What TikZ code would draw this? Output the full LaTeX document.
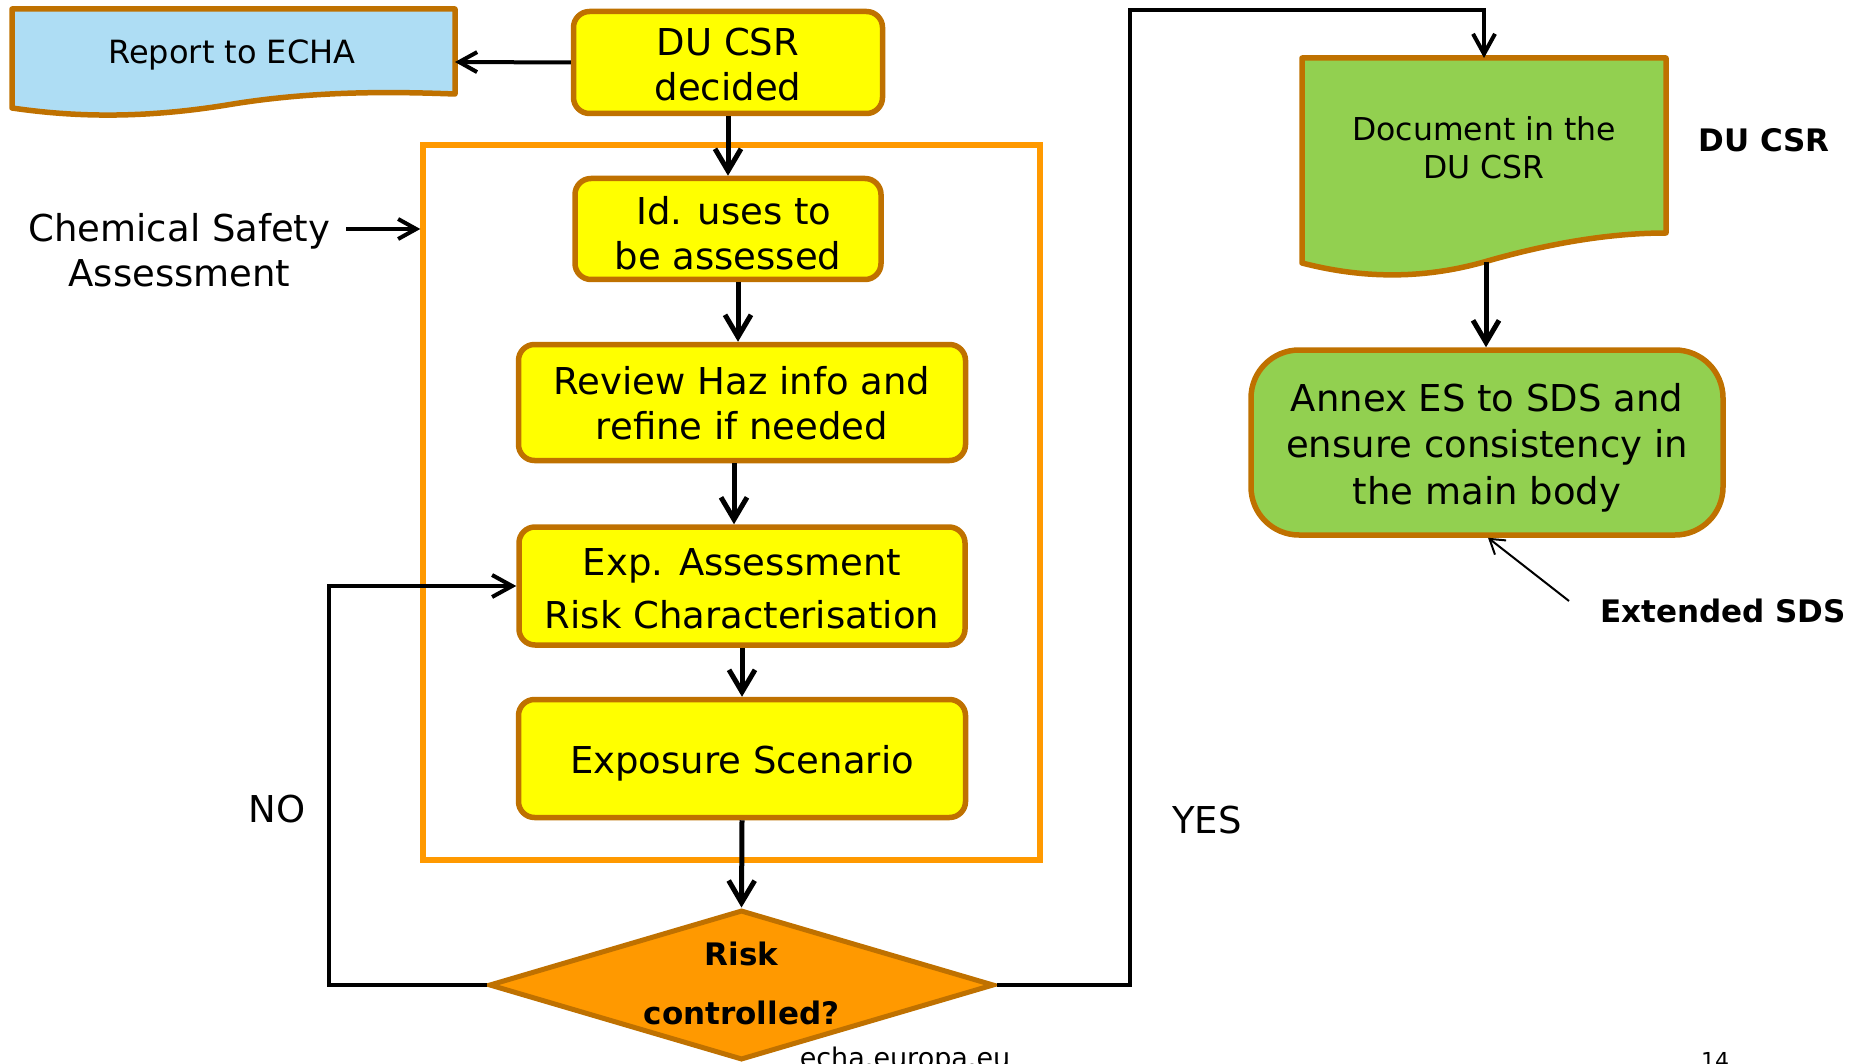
\documentclass[tikz,border=0pt]{standalone}
\usepackage{fontspec}
\setmainfont{DejaVu Sans}
\usetikzlibrary{arrows.meta,shapes.geometric,calc}
\definecolor{brn}{RGB}{191,113,0}
\definecolor{yel}{RGB}{255,255,0}
\definecolor{blu}{RGB}{174,221,244}
\definecolor{grn}{RGB}{146,208,80}
\definecolor{orng}{RGB}{255,153,0}
\begin{document}
\begin{tikzpicture}[x=1pt,y=-1pt,
  ybox/.style={draw=brn,fill=yel,line width=5.5pt,rounded corners=16pt,inner sep=0pt},
  tx/.style={inner sep=0pt,align=center,font=\fontsize{37}{45}\selectfont},
  conn/.style={line width=5pt,-{Straight Barb[length=22pt,width=26pt]}},
  midarr/.style={line width=4pt,-{Straight Barb[length=20pt,width=22pt]}},
  smallarr/.style={line width=4pt,-{Straight Barb[length=18pt,width=20pt]}},
  thinarr/.style={line width=2pt,-{Straight Barb[length=14pt,width=18pt]}},
  lbl/.style={inner sep=0pt,align=center,font=\fontsize{37}{45}\selectfont},
  blbl/.style={inner sep=0pt,font=\bfseries\fontsize{31}{37}\selectfont},
  docshape/.style={draw=brn,line width=5.5pt,line join=round},
]
\useasboundingbox (0,0) rectangle (1851,1064);
\clip (0,0) rectangle (1851,1064);

% container
\node[draw=orng,line width=5.5pt,minimum width=617pt,minimum height=715pt,inner sep=0pt] (cont) at (731.5,502.5) {};

% report document shape
\draw[docshape,fill=blu] (12,9) -- (455,9) -- (455,94)
  .. controls (400,92) and (320,90) .. (233,104)
  .. controls (150,118) and (80,118) .. (12,108) -- cycle;
\node[lbl,font=\fontsize{32}{37}\selectfont] (report) at (232,55) {Report to ECHA};
\coordinate (reportR) at (455,62);

% green document shape
\draw[docshape,fill=grn] (1302,58) -- (1666,58) -- (1666,233)
  .. controls (1620,233) and (1560,240) .. (1484,262)
  .. controls (1420,280) and (1360,278) .. (1302,263) -- cycle;
\node[lbl,font=\fontsize{31.5}{38}\selectfont] (doc) at (1484,148) {Document in the\\DU CSR};
\coordinate (doctop) at (1484,58);
\coordinate (docbot) at (1486,262);

% flow boxes
\node[ybox,minimum width=309pt,minimum height=102pt,
  label={[tx,yshift=-2pt]center:{DU CSR\\decided}}] (ducsr) at (728,62.5) {};
\node[ybox,minimum width=306pt,minimum height=101pt,
  label={[tx,yshift=-4pt]center:{\ Id. uses to\\be assessed}}] (id) at (728,229) {};
\node[ybox,minimum width=447pt,minimum height=116pt,
  label={[tx,yshift=-1pt]center:{Review Haz info and\\refine if needed}}] (review) at (742,402.5) {};
\node[ybox,minimum width=446pt,minimum height=118pt,
  label={[tx,font=\fontsize{37}{53}\selectfont,yshift=-3pt]center:{Exp. Assessment\\Risk Characterisation}}] (exp) at (742,586) {};
\node[ybox,minimum width=447pt,minimum height=118pt,
  label={[tx,yshift=-5pt]center:{Exposure Scenario}}] (es) at (742,758.5) {};

% decision
\node[diamond,draw=brn,fill=orng,line width=5pt,minimum width=505pt,minimum height=150pt,inner sep=0pt,
  label={[inner sep=0pt,align=center,font=\bfseries\fontsize{31}{59}\selectfont,yshift=2pt]center:{Risk\\controlled?}}] (dia) at (741.5,985) {};

% annex
\node[draw=brn,fill=grn,line width=5.5pt,rounded corners=48pt,minimum width=472pt,minimum height=185pt,inner sep=0pt,
  label={[tx,font=\fontsize{37}{46.5}\selectfont,yshift=-5pt]center:{Annex ES to SDS and\\ensure consistency in\\the main body}}] (annex) at (1487,442.5) {};

% labels
\node[lbl] (csa) at (179.5,250.5) {Chemical Safety\\Assessment};
\coordinate (csaA) at (346,229);
\node[lbl] (no) at (277,809) {NO};
\node[lbl] (yes) at (1207,820) {YES};
\node[blbl] (ducsrlbl) at (1764,140) {DU CSR};
\node[blbl] (ext) at (1723,611) {Extended SDS};
\coordinate (extA) at (1569,601);
\node[anchor=base,inner sep=0pt,font=\fontsize{27}{30}\selectfont] (url) at (905,1067) {echa.europa.eu};
\node[anchor=base,inner sep=0pt,font=\fontsize{22}{26}\selectfont] (pg) at (1715,1068) {14};

% connectors
\draw[smallarr] (ducsr.west) -- (reportR);
\draw[conn] (ducsr.south) -- (id.north);
\draw[conn] ([xshift=10pt]id.south) -- ([xshift=-4pt]review.north);
\draw[conn] ([xshift=-8pt]review.south) -- ([xshift=-8pt]exp.north);
\draw[conn] (exp.south) -- (es.north);
\draw[conn] (es.south) -- (dia.north);
\coordinate (nox) at (329,0);
\draw[midarr] (dia.west) -| (nox |- exp.west) -- (exp.west);
\coordinate (yesx) at (1130,10);
\draw[midarr] (dia.east) -| (yesx) -| (doctop);
\draw[conn] (docbot) -- (docbot |- annex.north);
\draw[smallarr] (csaA) -- (csaA -| cont.west);
\draw[thinarr] (extA) -- ([xshift=1pt]annex.south);
\end{tikzpicture}
\end{document}
